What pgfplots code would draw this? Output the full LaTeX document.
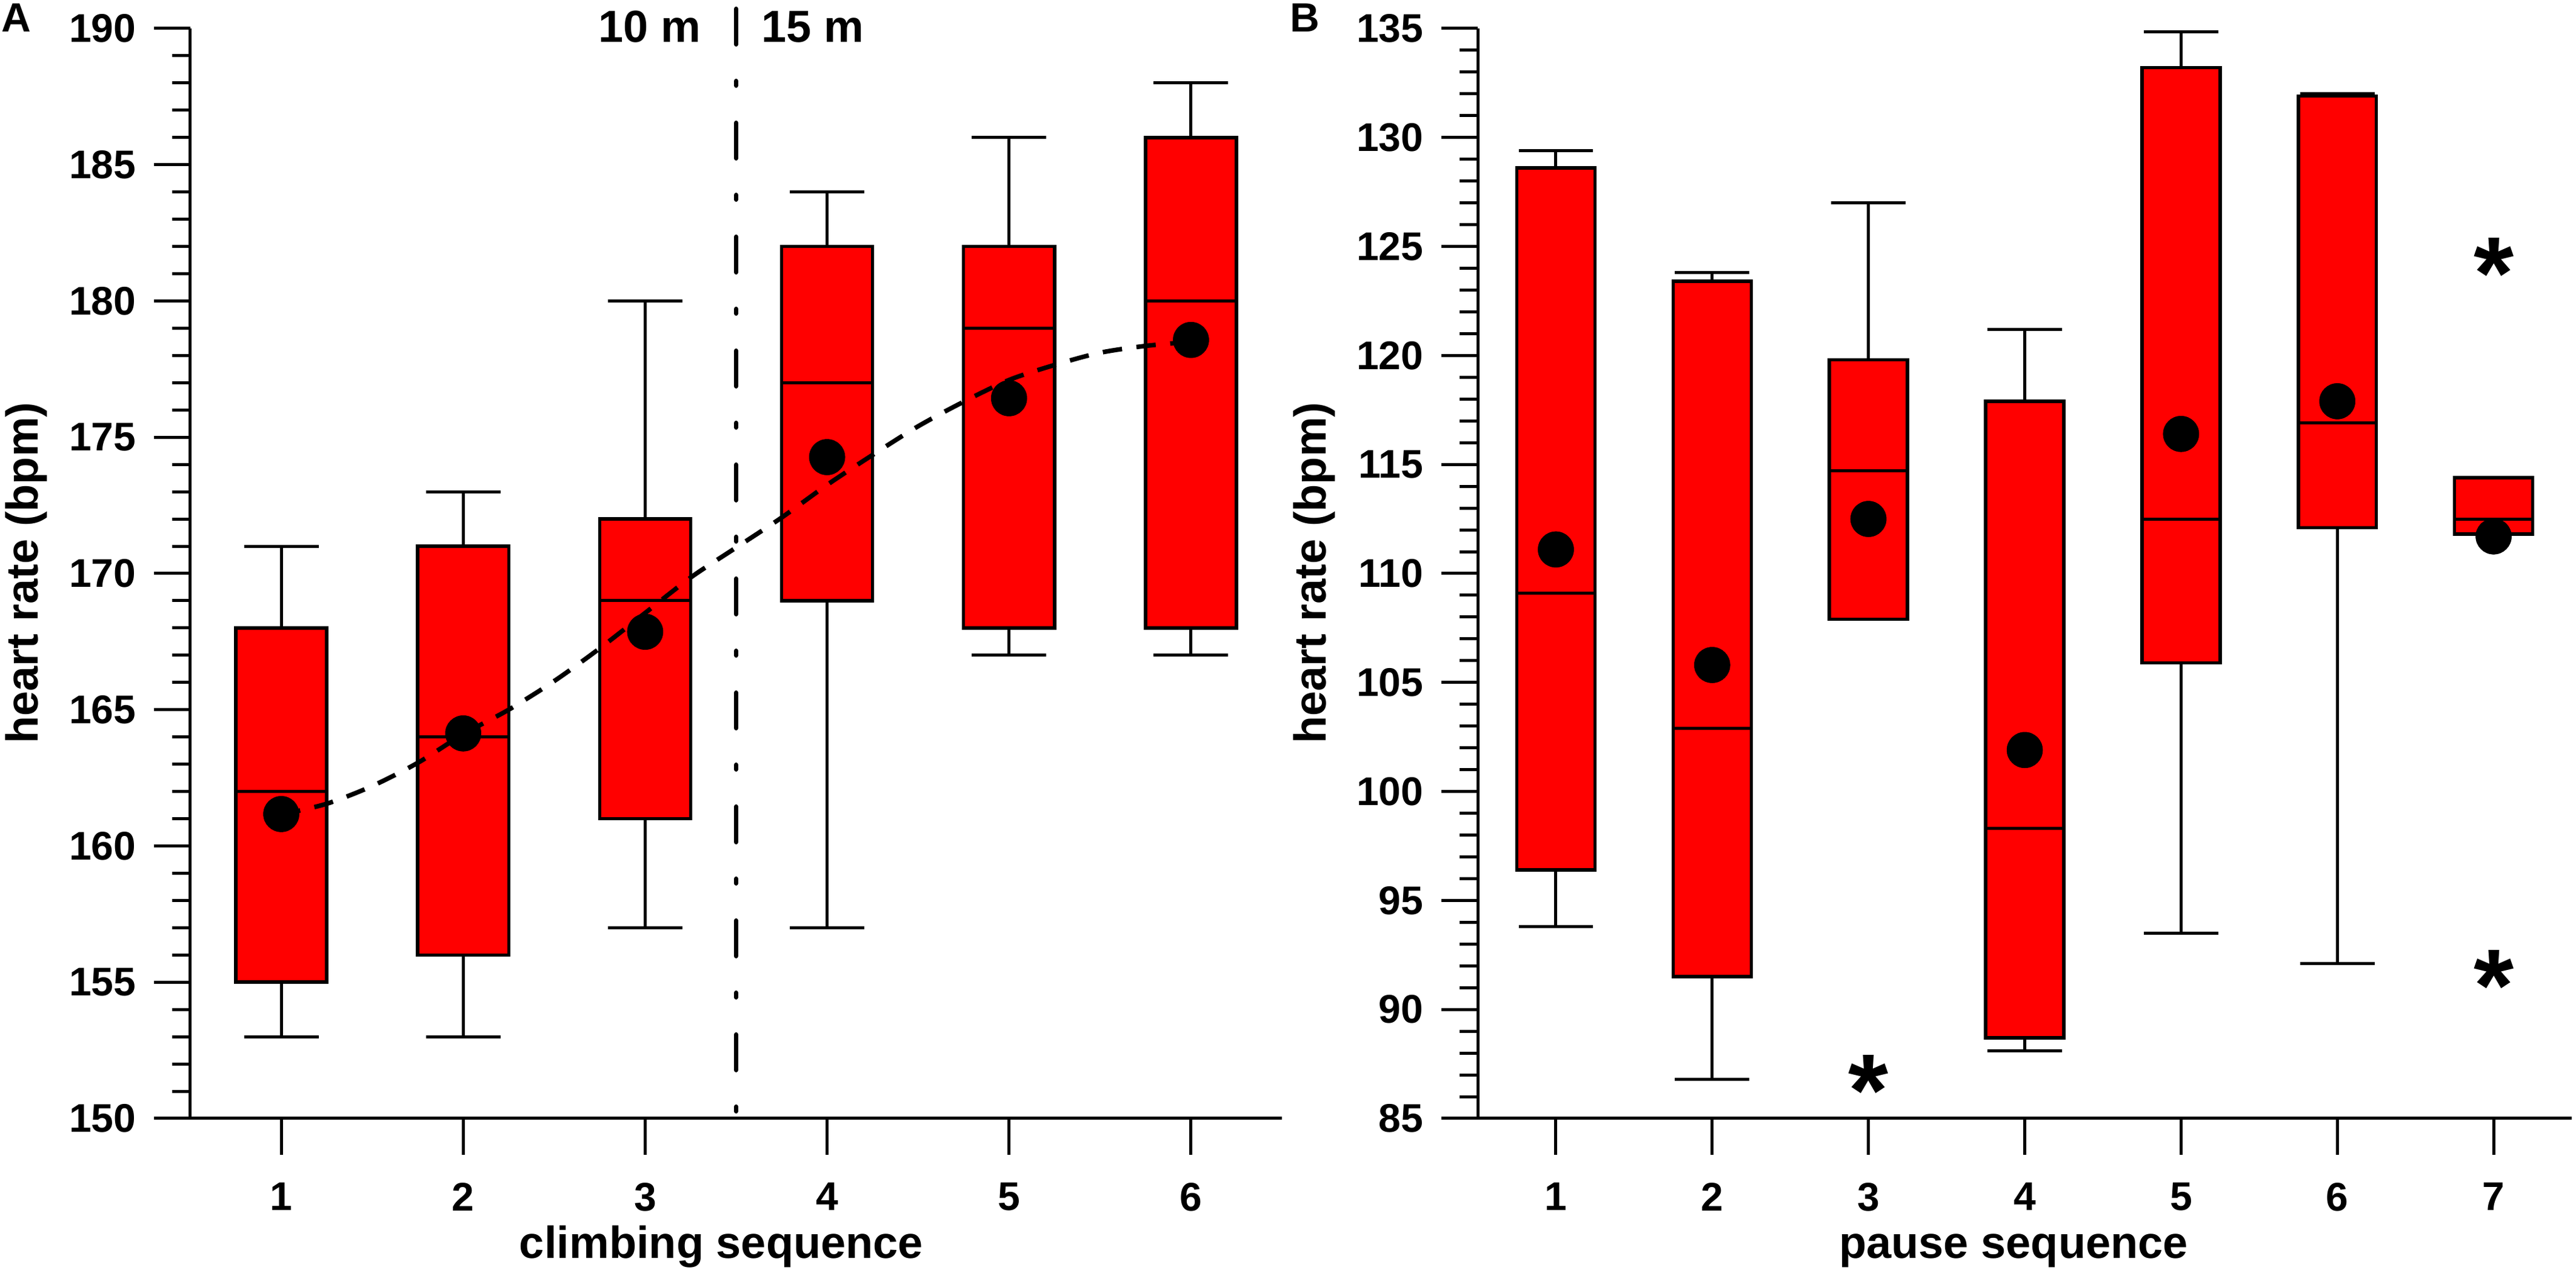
\documentclass[border=0pt]{standalone}
\usepackage{fontspec}
\setmainfont{Liberation Sans}
\usepackage{pgfplots}
\pgfplotsset{compat=1.18}
\definecolor{boxred}{RGB}{255,0,0}
\newcommand{\lblfont}{\fontsize{14.8}{14.8}\selectfont\bfseries}
\pgfplotsset{
  hr/.style={
    scale only axis, anchor=south west,
    axis x line=bottom, axis y line=left,
    axis line style={-, line width=1pt, black},
    tick align=outside,
    major tick length=12pt, minor tick length=6pt,
    tick style={line width=1pt, black},
    minor y tick num=4,
    ticklabel style={font=\fontsize{13.2}{13.2}\selectfont\bfseries},
    xticklabel style={yshift=-5.7pt},
    yticklabel style={xshift=-2.4pt},
    /pgf/number format/assume math mode=true,
    clip=false,
  },
  meandot/.style={only marks, mark=*, mark size=5.9pt, mark options={fill=black, draw=black, line width=0.1pt}},
}
% box: position, lower whisker, lower quartile, median, upper quartile, upper whisker
\newcommand{\caphw}{0.205}
\newcommand{\hrbox}[6]{%
  \pgfmathsetmacro{\xl}{#1-0.25}\pgfmathsetmacro{\xr}{#1+0.25}%
  \pgfmathsetmacro{\cl}{#1-\caphw}\pgfmathsetmacro{\cr}{#1+\caphw}%
  \edef\hrtmp{%
    \noexpand\addplot[black, line width=1pt] coordinates {(#1,#2) (#1,#3)};
    \noexpand\addplot[black, line width=1pt] coordinates {(#1,#5) (#1,#6)};
    \noexpand\addplot[black, line width=1pt] coordinates {(\cl,#2) (\cr,#2)};
    \noexpand\addplot[black, line width=1pt] coordinates {(\cl,#6) (\cr,#6)};
    \noexpand\addplot[draw=black, fill=boxred, line width=1.1pt] coordinates {(\xl,#3) (\xr,#3) (\xr,#5) (\xl,#5)} --cycle;
    \noexpand\addplot[black, line width=1pt] coordinates {(\xl,#4) (\xr,#4)};
  }\hrtmp}
\begin{document}
\begin{tikzpicture}
\path[use as bounding box] (0,0) rectangle (850pt,419pt);
% ---------------- Panel A ----------------
\begin{axis}[hr, at={(62.8pt,50pt)}, width=360.2pt, height=359.6pt,
  xmin=0.5, xmax=6.5, ymin=150, ymax=190,
  xtick={1,2,3,4,5,6}, ytick={150,155,160,165,170,175,180,185,190}]
\renewcommand{\caphw}{0.205}
\hrbox{1}{153}{155}{162}{168}{171}
\hrbox{2}{153}{156}{164}{171}{173}
\hrbox{3}{157}{161}{169}{172}{180}
\hrbox{4}{157}{169}{177}{182}{184}
\hrbox{5}{167}{168}{179}{182}{186}
\hrbox{6}{167}{168}{180}{186}{188}
\addplot[black, line width=1.5pt, dash pattern=on 6.4pt off 4.8pt, smooth, tension=0.5] coordinates {
(1.0,161.15) (1.25,161.55) (1.5,162.2) (1.75,163.05) (2.0,164.1) (2.25,165.0)
(2.5,166.05) (2.75,167.25) (3.0,168.55) (3.25,169.85) (3.5,170.95) (3.75,172.05)
(4.0,173.25) (4.25,174.35) (4.5,175.4) (4.75,176.3) (5.0,177.1) (5.25,177.65)
(5.5,178.1) (5.75,178.35) (6.0,178.5)};
\addplot[meandot] coordinates {(1,161.17) (2,164.13) (3,167.86) (4,174.27) (5,176.43) (6,178.57)};
\draw[line width=1.5pt, line cap=round, dash pattern=on 11.7pt off 12.1pt on 1.5pt off 12.3pt]
  (axis cs:3.5,190.72) -- (axis cs:3.5,150);
\node[anchor=base east, inner sep=0pt, font=\lblfont] at (axis cs:3.31,189.49) {10 m};
\node[anchor=base west, inner sep=0pt, font=\lblfont] at (axis cs:3.637,189.49) {15 m};
\end{axis}
% ---------------- Panel B ----------------
\begin{axis}[hr, at={(487.6pt,50pt)}, width=361pt, height=359.6pt,
  xmin=0.5, xmax=7.5, ymin=85, ymax=135,
  xtick={1,2,3,4,5,6,7}, ytick={85,90,95,100,105,110,115,120,125,130,135}]
\renewcommand{\caphw}{0.238}
\hrbox{1}{93.8}{96.4}{109.1}{128.6}{129.4}
\hrbox{2}{86.8}{91.5}{102.9}{123.4}{123.8}
\hrbox{3}{107.9}{107.9}{114.7}{119.8}{127.0}
\hrbox{4}{88.1}{88.7}{98.3}{117.9}{121.2}
\hrbox{5}{93.5}{105.9}{112.5}{133.2}{134.85}
\hrbox{6}{92.1}{112.1}{116.9}{131.9}{132.0}
\hrbox{7}{111.8}{111.8}{112.5}{114.4}{114.4}
\addplot[meandot] coordinates {(1,111.1) (2,105.8) (3,112.5) (4,101.9) (5,116.4) (6,117.9) (7,111.7)};
\addplot[only marks, mark=text, text mark={*}, text mark as node=true,
  text mark style={font=\fontsize{34}{34}\selectfont\bfseries, anchor=base, yshift=-18.2pt, inner sep=0pt}]
  coordinates {(3,87.17) (7,91.98) (7,124.66)};
\end{axis}
% ---------------- labels ----------------
\node[anchor=base west, inner sep=0pt, font=\fontsize{13.5}{13.5}\selectfont\bfseries] at (0.3pt,408.4pt) {A};
\node[anchor=base west, inner sep=0pt, font=\fontsize{13.5}{13.5}\selectfont\bfseries] at (425.4pt,408.4pt) {B};
\node[rotate=90, anchor=base, inner sep=0pt, font=\lblfont] at (12.4pt,230pt) {heart rate (bpm)};
\node[rotate=90, anchor=base, inner sep=0pt, font=\lblfont] at (437.4pt,230pt) {heart rate (bpm)};
\node[anchor=base, inner sep=0pt, font=\lblfont] at (238pt,3.8pt) {climbing sequence};
\node[anchor=base, inner sep=0pt, font=\lblfont] at (664.4pt,3.8pt) {pause sequence};
\end{tikzpicture}
\end{document}
